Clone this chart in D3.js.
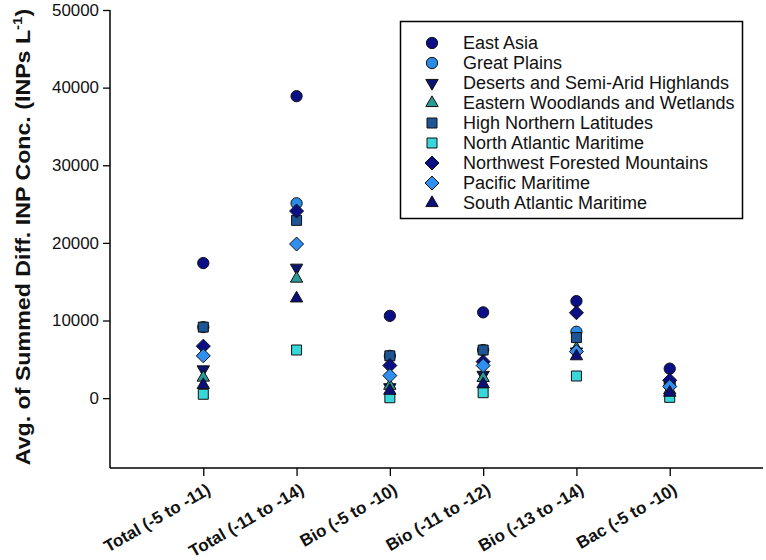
<!DOCTYPE html>
<html><head><meta charset="utf-8">
<script src="https://cdn.jsdelivr.net/npm/d3@7"></script>
<style>body{margin:0;background:#fff}svg{display:block}text{font-family:"Liberation Sans",Arial,sans-serif}</style>
</head><body><svg id="c" width="766" height="560"></svg>
<script>
const categories = ["Total (-5 to -11)","Total (-11 to -14)","Bio (-5 to -10)","Bio (-11 to -12)","Bio (-13 to -14)","Bac (-5 to -10)"];
const seriesNames = ["East Asia","Great Plains","Deserts and Semi-Arid Highlands","Eastern Woodlands and Wetlands","High Northern Latitudes","North Atlantic Maritime","Northwest Forested Mountains","Pacific Maritime","South Atlantic Maritime"];
const eastAsia      = [17400, 38900, 10600, 11050, 12500, 3800];
const greatPlains   = [9150, 25100, 5450, 6200, 8550, 1900];
const deserts       = [3700, 16800, 1400, 3000, 6000, 1200];
const easternWood   = [2650, 15400, 1600, 2600, 6400, 1000];
const highNorthern  = [9150, 22900, 5450, 6200, 7800, 1900];
const northAtlantic = [500, 6200, 50, 700, 2850, 100];
const northwest     = [6700, 24100, 4200, 4700, 11000, 2300];
const pacific       = [5450, 19850, 2900, 4200, 6000, 1500];
const southAtlantic = [1700, 12850, 950, 1800, 5400, 700];
const yTicks = [0, 10000, 20000, 30000, 40000, 50000];

const seriesValues = [eastAsia, greatPlains, deserts, easternWood, highNorthern, northAtlantic, northwest, pacific, southAtlantic];
const styles = [
  {shape:"circle", fill:"#0b0f85"},
  {shape:"circle", fill:"#2a8be6"},
  {shape:"down", fill:"#0b1470"},
  {shape:"up", fill:"#2a9a98"},
  {shape:"square", fill:"#1d5595"},
  {shape:"square", fill:"#38d8da"},
  {shape:"diamond", fill:"#0b0f85"},
  {shape:"diamond", fill:"#2f8ff0"},
  {shape:"up", fill:"#0b0f7a"}
];
const diamondType = {draw(ctx, size){ const r = Math.sqrt(size/2); ctx.moveTo(0,-r); ctx.lineTo(r,0); ctx.lineTo(0,r); ctx.lineTo(-r,0); ctx.closePath(); }};
function symPath(shape){
  if(shape==="circle") return d3.symbol(d3.symbolCircle, 100)();
  if(shape==="square") return d3.symbol(d3.symbolSquare, 100)();
  if(shape==="diamond") return d3.symbol(diamondType, 98)();
  return d3.symbol(d3.symbolTriangle, 66)();
}
const svg = d3.select("#c");
const x0 = 110, x1 = 763, yTop = 10, yBot = 468;
const x = d3.scaleLinear().domain([0, 7]).range([x0, x1]);
const y = d3.scaleLinear().domain([-9000, 50000]).range([yBot, yTop]);
const yAxis = d3.axisLeft(y).tickValues(yTicks).tickSize(7).tickFormat(d3.format("d"));
const gy = svg.append("g").attr("transform",`translate(${x0},0)`).call(yAxis);
gy.select(".domain").remove();
gy.selectAll("line").attr("stroke","#000").attr("stroke-width",1.3);
gy.selectAll("text").attr("font-size",16).attr("fill","#111").attr("x",-11)
  .attr("textLength", d => String(d).length*9.4).attr("lengthAdjust","spacingAndGlyphs");
svg.append("line").attr("x1",x0).attr("x2",x0).attr("y1",yTop).attr("y2",yBot).attr("stroke","#000").attr("stroke-width",1.5);
const xAxis = d3.axisBottom(x).tickValues(categories.map((c,i)=>i+1)).tickSize(8).tickFormat(i=>categories[i-1]);
const gx = svg.append("g").attr("transform",`translate(0,${yBot})`).call(xAxis);
gx.select(".domain").remove();
gx.selectAll("line").attr("stroke","#000").attr("stroke-width",1.3);
gx.selectAll("text").attr("font-size",17).attr("font-weight","bold").attr("fill","#111")
  .attr("text-anchor","end").attr("dy",0).attr("y",0)
  .attr("transform","translate(8,25) rotate(-30)");
svg.append("line").attr("x1",x0).attr("x2",x1).attr("y1",yBot).attr("y2",yBot).attr("stroke","#000").attr("stroke-width",1.5);

// y title
const yt = svg.append("text").attr("transform","translate(30,237) rotate(-90) scale(1.16,1)").attr("text-anchor","middle")
  .attr("font-size",20).attr("font-weight","bold").attr("fill","#111");
yt.append("tspan").text("Avg. of Summed Diff. INP Conc. (INPs L");
yt.append("tspan").attr("font-size",13).attr("dy",-8).text("-1");
yt.append("tspan").attr("dy",8).text(")");

// points
seriesValues.forEach((vals, s) => {
  svg.append("g").selectAll("path").data(vals).join("path")
    .attr("d", symPath(styles[s].shape))
    .attr("transform",(v,i)=>`translate(${x(i+1)},${y(v)})` + (styles[s].shape==="down"?" rotate(180)":""))
    .attr("fill", styles[s].fill).attr("stroke","#111").attr("stroke-width",1);
});

// legend
const lg = svg.append("g");
lg.append("rect").attr("x",400.5).attr("y",21.5).attr("width",342).attr("height",197).attr("fill","#fff").attr("stroke","#000").attr("stroke-width",1.5);
seriesNames.forEach((n, s) => {
  const yy = 43 + s*20;
  lg.append("path").attr("d", symPath(styles[s].shape))
    .attr("transform",`translate(432,${yy})` + (styles[s].shape==="down"?" rotate(180)":""))
    .attr("fill", styles[s].fill).attr("stroke","#111").attr("stroke-width",1);
  lg.append("text").attr("x",463).attr("y",yy+6).attr("font-size",18).attr("fill","#111").text(n);
});
</script></body></html>
